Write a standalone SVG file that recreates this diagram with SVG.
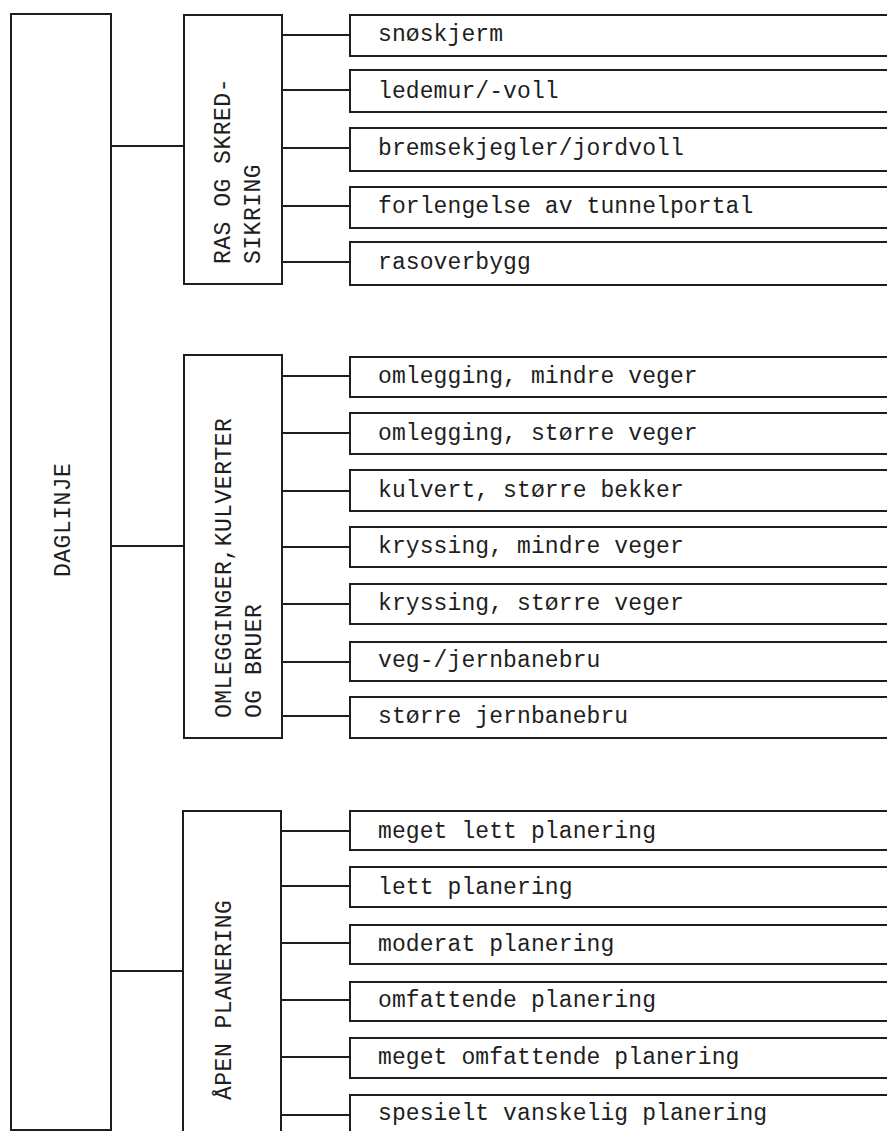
<svg xmlns="http://www.w3.org/2000/svg" width="887" height="1131" viewBox="0 0 887 1131">
  <style>
    .box { fill: #fff; stroke: #1e1e1e; stroke-width: 2; }
    .wire { stroke: #1e1e1e; stroke-width: 2; fill: none; }
    .leaf { font-family: "Liberation Mono", "DejaVu Sans Mono", monospace; font-size: 23px; letter-spacing: 0.1px; fill: #1e1e1e; }
    .grp { font-family: "Liberation Mono", "DejaVu Sans Mono", monospace; font-size: 23px; letter-spacing: 0.5px; fill: #1e1e1e; }
  </style>
  <rect width="887" height="1131" fill="#fff"/>

  <!-- connectors -->
  <g id="connectors" class="wire">
    <!-- root to groups -->
    <line x1="111" y1="146" x2="184" y2="146"/>
    <line x1="111" y1="546" x2="184" y2="546"/>
    <line x1="111" y1="971" x2="183" y2="971"/>
    <!-- RAS OG SKREDSIKRING -->
    <line x1="282" y1="35" x2="350" y2="35"/>
    <line x1="282" y1="90" x2="350" y2="90"/>
    <line x1="282" y1="148" x2="350" y2="148"/>
    <line x1="282" y1="206" x2="350" y2="206"/>
    <line x1="282" y1="262" x2="350" y2="262"/>
    <!-- OMLEGGINGER, KULVERTER OG BRUER -->
    <line x1="282" y1="376" x2="350" y2="376"/>
    <line x1="282" y1="433" x2="350" y2="433"/>
    <line x1="282" y1="491" x2="350" y2="491"/>
    <line x1="282" y1="547" x2="350" y2="547"/>
    <line x1="282" y1="604" x2="350" y2="604"/>
    <line x1="282" y1="662" x2="350" y2="662"/>
    <line x1="282" y1="716" x2="350" y2="716"/>
    <!-- ÅPEN PLANERING -->
    <line x1="281" y1="831" x2="350" y2="831"/>
    <line x1="281" y1="886" x2="350" y2="886"/>
    <line x1="281" y1="943" x2="350" y2="943"/>
    <line x1="281" y1="1000" x2="350" y2="1000"/>
    <line x1="281" y1="1057" x2="350" y2="1057"/>
    <line x1="281" y1="1115" x2="350" y2="1115"/>
  </g>

  <!-- root -->
  <g id="daglinje">
    <rect class="box" x="11" y="14" width="100" height="1116"/>
    <text class="grp" transform="translate(70,577) rotate(-90)" font-size="23" letter-spacing="1">DAGLINJE</text>
  </g>

  <!-- group boxes -->
  <g id="ras-og-skredsikring">
    <rect class="box" x="184" y="15" width="98" height="269"/>
    <text class="grp" transform="translate(230,264) rotate(-90)">RAS OG SKRED-</text>
    <text class="grp" transform="translate(260,264) rotate(-90)">SIKRING</text>
  </g>
  <g id="omlegginger-kulverter-bruer">
    <rect class="box" x="184" y="355" width="98" height="383"/>
    <text class="grp" transform="translate(230.5,718) rotate(-90)">OMLEGGINGER,KULVERTER</text>
    <text class="grp" transform="translate(261,718) rotate(-90)">OG BRUER</text>
  </g>
  <g id="apen-planering">
    <rect class="box" x="183" y="811" width="98" height="330"/>
    <text class="grp" transform="translate(230.5,1100) rotate(-90)">ÅPEN PLANERING</text>
  </g>

  <!-- leaves: RAS OG SKREDSIKRING -->
  <g id="snoskjerm"><rect class="box" x="350" y="15" width="545" height="41"/><text class="leaf" x="378" y="41">snøskjerm</text></g>
  <g id="ledemur"><rect class="box" x="350" y="70" width="545" height="42"/><text class="leaf" x="378" y="98">ledemur/-voll</text></g>
  <g id="bremsekjegler"><rect class="box" x="350" y="128" width="545" height="43"/><text class="leaf" x="378" y="155">bremsekjegler/jordvoll</text></g>
  <g id="forlengelse"><rect class="box" x="350" y="187" width="545" height="41"/><text class="leaf" x="378" y="213">forlengelse av tunnelportal</text></g>
  <g id="rasoverbygg"><rect class="box" x="350" y="242" width="545" height="43"/><text class="leaf" x="378" y="269">rasoverbygg</text></g>

  <!-- leaves: OMLEGGINGER, KULVERTER OG BRUER -->
  <g id="omlegging-mindre"><rect class="box" x="350" y="357" width="545" height="40"/><text class="leaf" x="378" y="383">omlegging, mindre veger</text></g>
  <g id="omlegging-storre"><rect class="box" x="350" y="413" width="545" height="41"/><text class="leaf" x="378" y="440">omlegging, større veger</text></g>
  <g id="kulvert"><rect class="box" x="350" y="470" width="545" height="41"/><text class="leaf" x="378" y="497">kulvert, større bekker</text></g>
  <g id="kryssing-mindre"><rect class="box" x="350" y="527" width="545" height="40"/><text class="leaf" x="378" y="553">kryssing, mindre veger</text></g>
  <g id="kryssing-storre"><rect class="box" x="350" y="584" width="545" height="40"/><text class="leaf" x="378" y="610">kryssing, større veger</text></g>
  <g id="veg-jernbanebru"><rect class="box" x="350" y="642" width="545" height="39"/><text class="leaf" x="378" y="667">veg-/jernbanebru</text></g>
  <g id="storre-jernbanebru"><rect class="box" x="350" y="697" width="545" height="41"/><text class="leaf" x="378" y="723">større jernbanebru</text></g>

  <!-- leaves: ÅPEN PLANERING -->
  <g id="meget-lett"><rect class="box" x="350" y="811" width="545" height="39"/><text class="leaf" x="378" y="838">meget lett planering</text></g>
  <g id="lett"><rect class="box" x="350" y="867" width="545" height="40"/><text class="leaf" x="378" y="894">lett planering</text></g>
  <g id="moderat"><rect class="box" x="350" y="925" width="545" height="39"/><text class="leaf" x="378" y="951">moderat planering</text></g>
  <g id="omfattende"><rect class="box" x="350" y="982" width="545" height="39"/><text class="leaf" x="378" y="1007">omfattende planering</text></g>
  <g id="meget-omfattende"><rect class="box" x="350" y="1038" width="545" height="40"/><text class="leaf" x="378" y="1064">meget omfattende planering</text></g>
  <g id="spesielt-vanskelig"><rect class="box" x="350" y="1095" width="545" height="45"/><text class="leaf" x="378" y="1120">spesielt vanskelig planering</text></g>
</svg>
